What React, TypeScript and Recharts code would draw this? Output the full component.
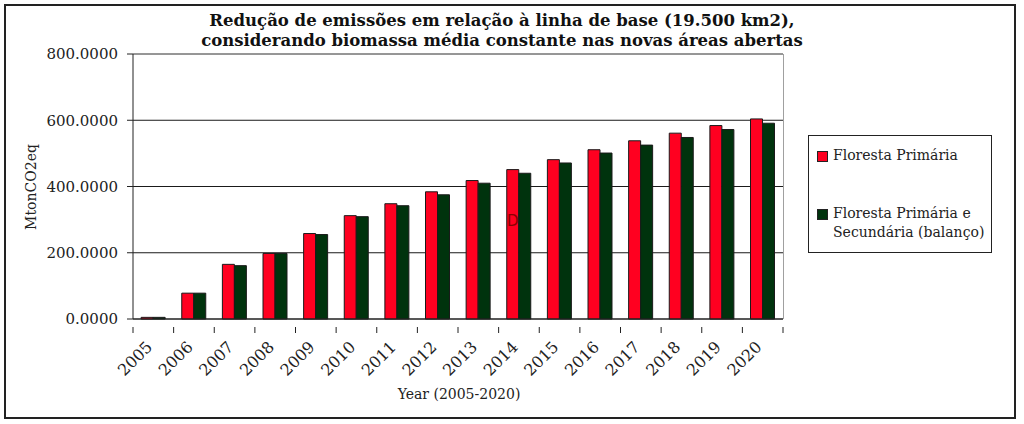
import React from "react";
import { BarChart, Bar, XAxis, YAxis, CartesianGrid, ReferenceLine } from "recharts";

const years = [
    "2005", "2006", "2007", "2008", "2009", "2010", "2011", "2012",
    "2013", "2014", "2015", "2016", "2017", "2018", "2019", "2020",
];
const florestaPrimaria = [5, 78, 165, 198, 258, 312, 348, 384, 418, 451, 481, 511, 538, 561, 584, 604];
const florestaSecundaria = [5, 78, 161, 198, 255, 309, 342, 375, 410, 440, 471, 501, 525, 548, 572, 591];
const yTicks = [0, 200, 400, 600, 800];

const series = [
    { key: "primaria", name: "Floresta Primária", color: "#ff0020", values: florestaPrimaria },
    { key: "balanco", name: "Floresta Primária e\nSecundária (balanço)", color: "#00330d", values: florestaSecundaria },
];

const data = years.map((year, i) => ({
    year,
    primaria: florestaPrimaria[i],
    balanco: florestaSecundaria[i],
}));

const W = 1024;
const H = 424;
const PLOT_LEFT = 133;
const PLOT_RIGHT = 783;
const PLOT_TOP = 54;
const PLOT_BOTTOM = 319;
const BAND = (PLOT_RIGHT - PLOT_LEFT) / years.length;

const FONT = "'DejaVu Serif', serif";

function YearTick(props: any) {
    const { x, y, payload, index } = props;
    const isLast = index === years.length - 1;
    // ticks sit between categories, labels at the centre
    return (
        <g>
            <line x1={x - BAND / 2} x2={x - BAND / 2} y1={y} y2={y + 6} stroke="#222" />
            {isLast && <line x1={x + BAND / 2} x2={x + BAND / 2} y1={y} y2={y + 6} stroke="#222" />}
            <text
                x={x}
                y={y + 21}
                transform={`rotate(-45, ${x}, ${y + 21})`}
                textAnchor="end"
                fontFamily={FONT}
                fontSize={16}
                fill="#222"
            >
                {payload.value}
            </text>
        </g>
    );
}

export default function App() {
    return (
        <div style={{ position: "absolute", left: 0, top: 0, width: W, height: H, background: "#fff", fontFamily: FONT }}>
            <div
                style={{
                    position: "absolute",
                    left: 4,
                    top: 4,
                    width: 1008,
                    height: 411,
                    border: "2px solid #222",
                }}
            />
            <div
                style={{
                    position: "absolute",
                    left: 0,
                    width: 1004,
                    top: 11,
                    textAlign: "center",
                    fontWeight: "bold",
                    fontSize: 16.5,
                    lineHeight: "20px",
                    color: "#111",
                }}
            >
                Redução de emissões em relação à linha de base (19.500 km2),
                <br />
                considerando biomassa média constante nas novas áreas abertas
            </div>
            <BarChart
                width={W}
                height={H}
                data={data}
                margin={{ top: PLOT_TOP, right: W - PLOT_RIGHT, bottom: H - PLOT_BOTTOM - 60, left: 0 }}
                barCategoryGap="20%"
                barGap={0}
                style={{ position: "absolute", left: 0, top: 0 }}
            >
                <CartesianGrid vertical={false} stroke="#1a1a1a" />
                <ReferenceLine y={800} stroke="#a0a0a0" />
                <XAxis
                    dataKey="year"
                    height={60}
                    tick={<YearTick />}
                    tickLine={false}
                    axisLine={{ stroke: "#222" }}
                    interval={0}
                />
                <YAxis
                    width={PLOT_LEFT}
                    domain={[0, 800]}
                    ticks={yTicks}
                    tickFormatter={(v: number) => v.toFixed(4)}
                    tick={{ fontFamily: FONT, fontSize: 15, fill: "#222" }}
                    tickSize={6}
                    tickMargin={9}
                    tickLine={{ stroke: "#222" }}
                    axisLine={{ stroke: "#222" }}
                />
                {series.map((s) => (
                    <Bar
                        key={s.key}
                        dataKey={s.key}
                        name={s.name}
                        fill={s.color}
                        stroke="#1a1a1a"
                        strokeWidth={1}
                        isAnimationActive={false}
                    />
                ))}
            </BarChart>
            <div
                style={{
                    position: "absolute",
                    left: PLOT_RIGHT,
                    top: PLOT_TOP,
                    width: 0,
                    height: PLOT_BOTTOM - PLOT_TOP,
                    borderLeft: "1px solid #a0a0a0",
                }}
            />
            <div
                style={{
                    position: "absolute",
                    left: 31,
                    top: 187,
                    fontSize: 14,
                    color: "#222",
                    transform: "translate(-50%, -50%) rotate(-90deg)",
                    whiteSpace: "nowrap",
                }}
            >
                MtonCO2eq
            </div>
            <div
                style={{
                    position: "absolute",
                    left: 459,
                    top: 394,
                    fontSize: 14,
                    color: "#222",
                    transform: "translate(-50%, -50%)",
                    whiteSpace: "nowrap",
                }}
            >
                Year (2005-2020)
            </div>
            <div
                style={{
                    position: "absolute",
                    left: 507,
                    top: 212,
                    fontFamily: "'DejaVu Sans', sans-serif",
                    fontSize: 15,
                    color: "#8b0000",
                }}
            >
                D
            </div>
            <div
                style={{
                    position: "absolute",
                    left: 808,
                    top: 135,
                    width: 182,
                    height: 116,
                    border: "1.5px solid #222",
                    fontSize: 14,
                    color: "#222",
                }}
            >
                {series.map((s, i) => (
                    <div
                        key={s.key}
                        style={{
                            position: "absolute",
                            left: 8,
                            top: i === 0 ? 10 : 68,
                            display: "flex",
                            alignItems: "flex-start",
                            lineHeight: "19px",
                            whiteSpace: "pre",
                        }}
                    >
                        <span
                            style={{
                                display: "inline-block",
                                width: 9,
                                height: 9,
                                marginTop: 5,
                                marginRight: 5,
                                background: s.color,
                                border: "1px solid #222",
                            }}
                        />
                        <span>{s.name}</span>
                    </div>
                ))}
            </div>
        </div>
    );
}
